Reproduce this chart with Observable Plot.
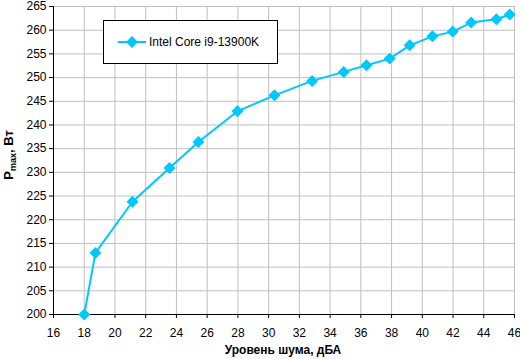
<!DOCTYPE html>
<html><head><meta charset="utf-8">
<script src="https://cdn.jsdelivr.net/npm/d3@7"></script>
<script src="https://cdn.jsdelivr.net/npm/@observablehq/plot@0.6"></script>
<style>
body{margin:0;background:#fff;}
#chart{position:relative;width:520px;height:359px;}
svg{font-family:Arial,"Liberation Sans",sans-serif;}
</style></head>
<body><div id="chart"></div>
<script>
const series = "Intel Core i9-13900K";
const noise = [18.0, 18.73, 21.14, 23.55, 25.43, 27.97, 30.38, 32.83, 34.89, 36.37, 37.88, 39.18, 40.66, 41.98, 43.18, 44.82, 45.69];
const power = [200.0, 213.0, 223.8, 230.9, 236.4, 242.9, 246.25, 249.3, 251.2, 252.6, 254.0, 256.8, 258.7, 259.7, 261.6, 262.3, 263.3];
const xTicks = [16,18,20,22,24,26,28,30,32,34,36,38,40,42,44,46];
const yTicks = [200,205,210,215,220,225,230,235,240,245,250,255,260,265];
const xTitle = "Уровень шума, дБА";
const yTitleMain = "P", yTitleSub = "max", yTitleRest = ", Вт";
const color = "#00c8ff";

const data = noise.map((x,i)=>({x, y: power[i]}));

const chart = Plot.plot({
  width: 520, height: 359,
  marginLeft: 53, marginRight: 6, marginTop: 6, marginBottom: 45,
  style: {fontFamily: "Arial, 'Liberation Sans', sans-serif", fontSize: "12px", color: "#000", background: "#fff", overflow: "visible"},
  x: {domain: [16, 46], ticks: xTicks, label: null},
  y: {domain: [200, 265], ticks: yTicks, label: null},
  marks: [
    Plot.gridX(xTicks, {stroke: "#c0c0c0", strokeOpacity: 1, strokeWidth: 1}),
    Plot.gridY(yTicks, {stroke: "#c0c0c0", strokeOpacity: 1, strokeWidth: 1}),
    Plot.axisX({ticks: xTicks, tickSize: 4, tickPadding: 10, fontSize: 12, fill: "#000"}),
    Plot.axisY({ticks: yTicks, tickSize: 4, tickPadding: 3, fontSize: 12, fill: "#000"}),
    Plot.ruleX([16], {stroke: "#000"}),
    Plot.ruleY([200], {stroke: "#000"}),
    Plot.line(data, {x: "x", y: "y", stroke: color, strokeWidth: 2}),
    Plot.dot(data, {x: "x", y: "y", symbol: "diamond2", r: 5.4, fill: color, stroke: "none"})
  ]
});
document.getElementById("chart").appendChild(chart);

const svg = d3.select(chart);
// x title
svg.append("text").attr("x", 283).attr("y", 354).attr("text-anchor", "middle")
  .attr("font-weight", "bold").attr("font-size", 12).attr("fill", "#000").text(xTitle);
// y title
const yt = svg.append("text").attr("transform", "translate(13,155) rotate(-90)")
  .attr("text-anchor", "middle").attr("font-weight", "bold").attr("font-size", 13).attr("fill", "#000");
yt.append("tspan").text(yTitleMain);
yt.append("tspan").attr("font-size", 9).attr("dy", 3).text(yTitleSub);
yt.append("tspan").attr("dy", -3).text(yTitleRest);
// legend
const lg = svg.append("g");
lg.append("rect").attr("x", 103.5).attr("y", 20.5).attr("width", 174).attr("height", 43)
  .attr("fill", "#fff").attr("stroke", "#000").attr("stroke-width", 1);
lg.append("line").attr("x1", 118).attr("x2", 146).attr("y1", 42).attr("y2", 42)
  .attr("stroke", color).attr("stroke-width", 2);
lg.append("path").attr("d", d3.symbol(d3.symbolDiamond2, 92)()).attr("transform", "translate(132,42)")
  .attr("fill", color);
lg.append("text").attr("x", 149).attr("y", 46).attr("text-anchor", "start").attr("font-size", 12).attr("fill", "#000").text(series);
</script></body></html>
